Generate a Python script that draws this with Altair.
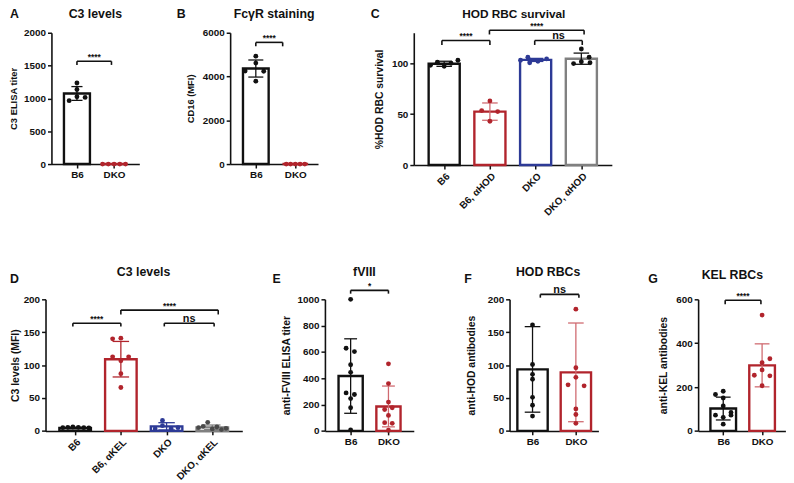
import json
import altair as alt
import pandas as pd

FONT = "Liberation Sans"
BLACK = "#111111"
RED = "#b1242c"
RED_E = "#d06a70"
BLUE = "#2d3a96"
GRAY = "#808080"
DGRAY = "#4a4a4a"

# ---------------- Panel A : C3 levels ----------------
A_GROUPS = ["B6", "DKO"]
A_MEAN = [1075, 0]
A_SD = [105, 0]
A_PT_GROUP = [0, 0, 0, 0, 0, 1, 1, 1, 1, 1]
A_PT_VALUE = [1235, 1135, 1025, 965, 1015, 0, 0, 0, 0, 0]
A_PT_DX = [0, 0, 0, -0.21, 0.22, -0.31, -0.155, 0, 0.155, 0.31]
A_BR_FROM = [0]
A_BR_TO = [0.93]
A_BR_Y = [1565]
A_BR_TICK = [1510]
A_BR_TEXT = ["****"]

# ---------------- Panel B : FcγR staining ----------------
B_GROUPS = ["B6", "DKO"]
B_MEAN = [4365, 0]
B_SD = [390, 0]
B_PT_GROUP = [0, 0, 0, 0, 0, 1, 1, 1, 1, 1]
B_PT_VALUE = [4930, 4614, 4253, 4240, 3789, 0, 0, 0, 0, 0]
B_PT_DX = [0, 0, -0.27, 0.2, 0, -0.23, -0.12, 0, 0.12, 0.24]
B_BR_FROM = [0]
B_BR_TO = [0.68]
B_BR_Y = [5560]
B_BR_TICK = [5380]
B_BR_TEXT = ["****"]

# ---------------- Panel C : HOD RBC survival ----------------
C_GROUPS = ["B6", "B6, αHOD", "DKO", "DKO, αHOD"]
C_MEAN = [99.5, 52.5, 103.3, 104.5]
C_SD = [2.5, 8.5, 1.5, 5.5]
C_PT_GROUP = [0, 0, 0, 0, 0, 1, 1, 1, 1, 2, 2, 2, 2, 2, 3, 3, 3, 3, 3]
C_PT_VALUE = [98, 101, 97, 100, 103, 63, 53.5, 52.5, 43,
              103, 106, 100.5, 102, 104.3, 114, 99.7, 101.5, 106, 100.5]
C_PT_DX = [-0.3, -0.15, 0, 0.15, 0.3, 0, -0.18, 0.17, 0,
           -0.33, -0.17, -0.13, 0.05, 0.24, 0, -0.17, 0, 0.17, 0.19]
C_BR_FROM = [-0.05, 0.99, 1.98]
C_BR_TO = [1.0, 3.06, 3.02]
C_BR_Y = [122.3, 132.5, 122.3]
C_BR_TICK = [118, 128.3, 118]
C_BR_TEXT = ["****", "****", "ns"]

# ---------------- Panel D : C3 levels (MFI) ----------------
D_GROUPS = ["B6", "B6, αKEL", "DKO", "DKO, αKEL"]
D_MEAN = [4.5, 109, 7, 5.5]
D_SD = [1, 27, 5.5, 3.5]
D_PT_GROUP = [0, 0, 0, 0, 0, 0, 1, 1, 1, 1, 1, 1, 1, 2, 2, 2, 2, 2,
              3, 3, 3, 3, 3, 3, 3]
D_PT_VALUE = [5, 5.5, 6, 5.5, 5, 4.5, 140, 141, 112.6, 106.7, 112.6, 87, 66,
              16, 8, 3, 3.5, 5, 13, 5, 7, 3, 6, 2, 4]
D_PT_DX = [-0.27, -0.16, -0.05, 0.07, 0.19, 0.3, -0.18, 0, -0.18, 0, 0.17, 0, 0,
           -0.09, -0.09, -0.25, 0.1, 0.25, -0.1, -0.3, -0.2, 0, 0.1, 0.2, 0.3]
D_BR_FROM = [-0.05, 1.0, 1.95]
D_BR_TO = [1.0, 3.13, 3.04]
D_BR_Y = [163.7, 183.6, 163.7]
D_BR_TICK = [158.8, 177, 158.8]
D_BR_TEXT = ["****", "****", "ns"]

# ---------------- Panel E : fVIII ----------------
E_GROUPS = ["B6", "DKO"]
E_MEAN = [417, 186]
E_SD = [283, 155]
E_PT_GROUP = [0] * 10 + [1] * 9
E_PT_VALUE = [1000, 628, 603, 503, 445, 289, 277, 246, 176, 8,
              510, 360, 219, 163, 176, 118, 63, 58, 5]
E_PT_DX = [0, -0.12, 0.1, 0, 0, -0.12, 0.1, 0, 0, 0,
           0, 0, 0, -0.1, 0.1, 0, -0.1, 0.1, 0]
E_BR_FROM = [0]
E_BR_TO = [1.0]
E_BR_Y = [1068]
E_BR_TICK = [1043]
E_BR_TEXT = ["*"]

# ---------------- Panel F : HOD RBCs ----------------
F_GROUPS = ["B6", "DKO"]
F_MEAN = [93.5, 89]
F_SD = [65, 75]
F_PT_GROUP = [0] * 7 + [1] * 8
F_PT_VALUE = [161, 101, 86, 78.6, 51, 39, 22.5,
              185, 96, 81.5, 70, 68.5, 33.5, 25, 11.5]
F_PT_DX = [0, 0, 0, 0, 0, 0, 0,
           0, 0, 0, -0.18, 0.19, 0, 0, 0]
F_BR_FROM = [0.18]
F_BR_TO = [1.07]
F_BR_Y = [207.5]
F_BR_TICK = [202.5]
F_BR_TEXT = ["ns"]

# ---------------- Panel G : KEL RBCs ----------------
G_GROUPS = ["B6", "DKO"]
G_MEAN = [102, 299]
G_SD = [52, 98]
G_PT_GROUP = [0] * 9 + [1] * 7
G_PT_VALUE = [181, 166, 150, 114, 84, 72, 72, 62, 31,
              528, 329, 311, 278, 254, 251, 206]
G_PT_DX = [0, -0.2, 0, 0, 0.2, -0.2, 0.2, 0, 0,
           0, 0.2, 0, 0, -0.2, 0.2, 0]
G_BR_FROM = [0.05]
G_BR_TO = [0.97]
G_BR_Y = [595.6]
G_BR_TICK = [578]
G_BR_TEXT = ["****"]


def axis_style(**kw):
    base = dict(grid=False, domainColor=BLACK, domainWidth=1.6, tickColor=BLACK,
                tickWidth=1.5, tickSize=4, labelFont=FONT, labelFontWeight="bold",
                labelColor=BLACK, labelFontSize=10, labelPadding=2,
                labelFlush=False, labelOverlap=False, titleFont=FONT,
                titleFontWeight="bold", titleColor=BLACK)
    base.update(kw)
    return alt.Axis(**base)


def panel(groups, mean, sd, pt_group, pt_value, pt_dx,
          br_from, br_to, br_y, br_tick, br_text,
          bar_col, err_col, dot_col, *, width, height, xdom, ydom, yticks,
          hw, cw, title, title_x, title_y, letter, letter_x, letter_y,
          ytitle, ytitle_x, ytitle_size, rot, title_size=12.5, ylabel_size=10):
    n = len(groups)
    idx = list(range(n))
    bars = pd.DataFrame({
        "idx": idx, "mean": mean, "sd": sd,
        "lo": [i - hw for i in idx], "hi": [i + hw for i in idx],
        "base": [0] * n, "color": bar_col, "ecolor": err_col,
    })
    bars["elo"] = bars["mean"] - bars["sd"]
    bars["ehi"] = bars["mean"] + bars["sd"]
    err = bars[bars["sd"] > 0]
    caps = pd.DataFrame({
        "clo": list(err["idx"] - cw) * 2, "chi": list(err["idx"] + cw) * 2,
        "cy": list(err["elo"]) + list(err["ehi"]),
        "ecolor": list(err["ecolor"]) * 2,
    })
    pts = pd.DataFrame({
        "px": [g + d for g, d in zip(pt_group, pt_dx)],
        "val": pt_value,
        "pcolor": [dot_col[g] for g in pt_group],
    })
    brh = pd.DataFrame({"x1": br_from, "x2": br_to, "y": br_y,
                        "xm": [(a + b) / 2 for a, b in zip(br_from, br_to)],
                        "label": br_text,
                        "fs": [11 if t == "ns" else 8.5 for t in br_text]})
    brv = pd.DataFrame({"x": list(br_from) + list(br_to),
                        "y": list(br_y) * 2, "yt": list(br_tick) * 2})

    xs = alt.Scale(domain=xdom, nice=False, zero=False)
    ys = alt.Scale(domain=ydom, nice=False, zero=True)
    names = json.dumps(groups, ensure_ascii=False)
    if rot:
        xaxis = axis_style(values=idx, labelExpr=f"{names}[datum.value]", title=None,
                           labelAngle=-45, labelAlign="right", labelBaseline="top")
    else:
        xaxis = axis_style(values=idx, labelExpr=f"{names}[datum.value]", title=None,
                           labelAngle=0)
    yaxis = axis_style(values=yticks, format="d", title=ytitle, titleX=ytitle_x,
                       titleBaseline="bottom", titleFontSize=ytitle_size,
                       labelFontSize=ylabel_size)

    def X(f):
        return alt.X(f, scale=xs, axis=xaxis)

    def Y(f):
        return alt.Y(f, scale=ys, axis=yaxis)

    bar_layer = alt.Chart(bars).mark_rect(fill="white", strokeWidth=2.4).encode(
        x=X("lo:Q"), x2="hi:Q", y=Y("mean:Q"), y2="base:Q",
        stroke=alt.Stroke("color:N", scale=None))
    err_layer = alt.Chart(err).mark_rule(strokeWidth=1.3).encode(
        x=X("idx:Q"), y=Y("elo:Q"), y2="ehi:Q",
        color=alt.Color("ecolor:N", scale=None))
    cap_layer = alt.Chart(caps).mark_rule(strokeWidth=1.3).encode(
        x=X("clo:Q"), x2="chi:Q", y=Y("cy:Q"),
        color=alt.Color("ecolor:N", scale=None))
    pt_layer = alt.Chart(pts).mark_circle(size=24, opacity=1).encode(
        x=X("px:Q"), y=Y("val:Q"), color=alt.Color("pcolor:N", scale=None))
    brh_layer = alt.Chart(brh).mark_rule(strokeWidth=1.6, color=BLACK).encode(
        x=X("x1:Q"), x2="x2:Q", y=Y("y:Q"))
    brv_layer = alt.Chart(brv).mark_rule(strokeWidth=1.6, color=BLACK).encode(
        x=X("x:Q"), y=Y("yt:Q"), y2="y:Q")
    brt_layer = alt.Chart(brh).mark_text(
        baseline="alphabetic", dy=-1.2, font=FONT, fontWeight="bold", color=BLACK
    ).encode(x=X("xm:Q"), y=Y("y:Q"),
             text="label:N", size=alt.Size("fs:Q", scale=None))
    letter_layer = alt.Chart(pd.DataFrame({"t": [letter]})).mark_text(
        align="left", baseline="alphabetic", font=FONT, fontSize=12.5,
        fontWeight="bold", color=BLACK
    ).encode(x=alt.value(letter_x), y=alt.value(letter_y), text="t:N")
    title_layer = alt.Chart(pd.DataFrame({"t": [title]})).mark_text(
        align="center", baseline="alphabetic", font=FONT, fontSize=title_size,
        fontWeight="bold", color=BLACK
    ).encode(x=alt.value(title_x), y=alt.value(title_y), text="t:N")

    return alt.layer(bar_layer, err_layer, cap_layer, pt_layer, brh_layer,
                     brv_layer, brt_layer, letter_layer, title_layer).properties(
        width=width, height=height)


def spacer(w):
    return alt.Chart(pd.DataFrame({"s": [0]})).mark_point(opacity=0).encode(
        x=alt.X("s:Q", axis=None), y=alt.Y("s:Q", axis=None)
    ).properties(width=w, height=1)


TOP_T = -14.5
pA = panel(A_GROUPS, A_MEAN, A_SD, A_PT_GROUP, A_PT_VALUE, A_PT_DX,
           A_BR_FROM, A_BR_TO, A_BR_Y, A_BR_TICK, A_BR_TEXT,
           [BLACK, RED], [BLACK, RED], [BLACK, RED],
           width=89, height=133, xdom=[-0.687, 1.68], ydom=[0, 2000],
           yticks=[0, 500, 1000, 1500, 2000], hw=0.35, cw=0.15,
           title="C3 levels", title_x=44.5, title_y=TOP_T, letter="A",
           letter_x=-42, letter_y=TOP_T, ytitle="C3 ELISA titer", ytitle_x=-33,
           ytitle_size=9.5, rot=False)
pB = panel(B_GROUPS, B_MEAN, B_SD, B_PT_GROUP, B_PT_VALUE, B_PT_DX,
           B_BR_FROM, B_BR_TO, B_BR_Y, B_BR_TICK, B_BR_TEXT,
           [BLACK, RED], [BLACK, RED], [BLACK, RED],
           width=89, height=133, xdom=[-0.65, 1.575], ydom=[0, 6000],
           yticks=[0, 2000, 4000, 6000], hw=0.325, cw=0.19,
           title="FcγR staining", title_x=44.5, title_y=TOP_T, letter="B",
           letter_x=-54, letter_y=TOP_T, ytitle="CD16 (MFI)", ytitle_x=-35,
           ytitle_size=9.5, rot=False)
pC = panel(C_GROUPS, C_MEAN, C_SD, C_PT_GROUP, C_PT_VALUE, C_PT_DX,
           C_BR_FROM, C_BR_TO, C_BR_Y, C_BR_TICK, C_BR_TEXT,
           [BLACK, RED, BLUE, GRAY], [BLACK, RED_E, BLUE, BLACK],
           [BLACK, RED, BLUE, BLACK],
           width=200.6, height=134, xdom=[-0.665, 3.667], ydom=[0, 130],
           yticks=[0, 50, 100], hw=0.34, cw=0.17,
           title="HOD RBC survival", title_x=101.3, title_y=-15, title_size=12,
           letter="C", letter_x=-43.7, letter_y=TOP_T, ytitle="%HOD RBC survival",
           ytitle_x=-29.2, ytitle_size=10.5, rot=True)

pD = panel(D_GROUPS, D_MEAN, D_SD, D_PT_GROUP, D_PT_VALUE, D_PT_DX,
           D_BR_FROM, D_BR_TO, D_BR_Y, D_BR_TICK, D_BR_TEXT,
           [BLACK, RED, BLUE, GRAY], [BLACK, RED, BLUE, GRAY],
           [BLACK, RED, BLUE, DGRAY],
           width=199.3, height=133.3, xdom=[-0.648, 3.656], ydom=[0, 200],
           yticks=[0, 50, 100, 150, 200], hw=0.345, cw=0.18,
           title="C3 levels", title_x=99.3, title_y=-23.5, letter="D",
           letter_x=-36, letter_y=-16.8, ytitle="C3 levels (MFI)",
           ytitle_x=-25.5, ytitle_size=10.5, rot=True)
pE = panel(E_GROUPS, E_MEAN, E_SD, E_PT_GROUP, E_PT_VALUE, E_PT_DX,
           E_BR_FROM, E_BR_TO, E_BR_Y, E_BR_TICK, E_BR_TEXT,
           [BLACK, RED], [BLACK, RED_E], [BLACK, RED],
           width=90, height=133.3, xdom=[-0.68, 1.67], ydom=[0, 1000],
           yticks=[0, 200, 400, 600, 800, 1000], hw=0.32, cw=0.17,
           title="fVIII", title_x=40, title_y=-23.5, letter="E",
           letter_x=-53, letter_y=-16.8, ytitle="anti-FVIII ELISA titer",
           ytitle_x=-33.5, ytitle_size=10.5, rot=False)
pF = panel(F_GROUPS, F_MEAN, F_SD, F_PT_GROUP, F_PT_VALUE, F_PT_DX,
           F_BR_FROM, F_BR_TO, F_BR_Y, F_BR_TICK, F_BR_TEXT,
           [BLACK, RED], [BLACK, RED_E], [BLACK, RED],
           width=90, height=133.3, xdom=[-0.53, 1.52], ydom=[0, 200],
           yticks=[0, 50, 100, 150, 200], hw=0.35, cw=0.18,
           title="HOD RBCs", title_x=39.1, title_y=-23.5, letter="F",
           letter_x=-46, letter_y=-16.5, ytitle="anti-HOD antibodies",
           ytitle_x=-33.2, ytitle_size=10.5, rot=False)
pG = panel(G_GROUPS, G_MEAN, G_SD, G_PT_GROUP, G_PT_VALUE, G_PT_DX,
           G_BR_FROM, G_BR_TO, G_BR_Y, G_BR_TICK, G_BR_TEXT,
           [BLACK, RED], [BLACK, RED_E], [BLACK, RED],
           width=88.4, height=133.3, xdom=[-0.646, 1.6], ydom=[0, 600],
           yticks=[0, 200, 400, 600], hw=0.33, cw=0.19,
           title="KEL RBCs", title_x=34.7, title_y=-20.8, letter="G",
           letter_x=-50.6, letter_y=-16.2, ytitle="anti-KEL antibodies",
           ytitle_x=-30.5, ytitle_size=10.5, rot=False)

row1 = alt.hconcat(spacer(6), pA, spacer(92), pB, spacer(96.7), pC,
                   spacing=0, bounds="flush")
row2 = alt.hconcat(pD, spacer(82.7), pE, spacer(96.7), pF, spacer(100.6), pG,
                   spacing=0, bounds="flush")

chart = alt.vconcat(row1, row2, spacing=270, bounds="flush").properties(
    padding={"left": 0, "top": -3, "right": 0, "bottom": 0},
    background="white",
).configure_view(strokeWidth=0)

chart.save("out.html", embed_options={"renderer": "svg", "actions": False})
